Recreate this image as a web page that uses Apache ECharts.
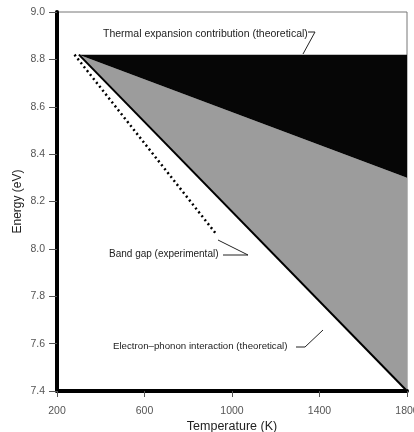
<!DOCTYPE html>
<html>
<head>
<meta charset="utf-8">
<script src="https://cdn.jsdelivr.net/npm/echarts@6/dist/echarts.min.js"></script>
<style>
  html, body { margin: 0; padding: 0; background: #fff; }
  #main { width: 414px; height: 432px; }
</style>
</head>
<body>
<div id="main"></div>
<script>
// axis ticks
const tempTicks = [200, 600, 1000, 1400, 1800]
const energyTicks = [7.4, 7.6, 7.8, 8.0, 8.2, 8.4, 8.6, 8.8, 9.0]

// thermal expansion contribution (black wedge)
const thermalT = [300, 1800, 1800]
const thermalE = [8.82, 8.82, 8.30]

// electron-phonon interaction (grey wedge)
const phononT = [300, 1800, 1800]
const phononE = [8.82, 8.30, 7.40]

// theoretical total (solid line)
const theoryT = [300, 1800]
const theoryE = [8.82, 7.40]

// band gap (experimental, dotted)
const bandT = [280, 930]
const bandE = [8.82, 8.06]

function pairs(xs, ys) {
  return xs.map((x, i) => [x, ys[i]])
}

function polygonSeries(xs, ys, color) {
  return {
    type: 'custom',
    silent: true,
    data: pairs(xs, ys),
    renderItem: function(params, api) {
      if (params.dataIndex !== 0) return
      let pts = xs.map((x, i) => api.coord([x, ys[i]]))
      return {
        type: 'polygon',
        shape: { points: pts },
        style: { fill: color }
      }
    }
  }
}

let myChart = echarts.init(document.getElementById('main'))
myChart.setOption({
  animation: false,
  textStyle: { fontFamily: 'Liberation Sans, Arial, sans-serif' },
  grid: {
    left: 57,
    right: 7,
    top: 12,
    bottom: 41,
    outerBoundsMode: 'none',
    containLabel: false,
    show: true,
    borderColor: '#777',
    borderWidth: 1
  },
  xAxis: {
    type: 'value',
    min: 200,
    max: 1800,
    interval: 400,
    name: 'Temperature (K)',
    nameLocation: 'middle',
    nameGap: 29,
    nameMoveOverlap: false,
    nameTextStyle: { fontSize: 12.5, color: '#222' },
    splitLine: { show: false },
    axisLine: { lineStyle: { color: '#000', width: 4 } },
    axisTick: { length: 6, lineStyle: { color: '#555' } },
    axisLabel: {
      margin: 15,
      fontSize: 10.5,
      color: '#555',
      formatter: function(v) { return tempTicks.indexOf(v) >= 0 ? String(v) : '' }
    }
  },
  yAxis: {
    type: 'value',
    min: 7.4,
    max: 9.0,
    interval: 0.2,
    name: 'Energy (eV)',
    nameLocation: 'middle',
    nameGap: 33,
    nameMoveOverlap: false,
    nameTextStyle: { fontSize: 12, color: '#222' },
    splitLine: { show: false },
    axisLine: { lineStyle: { color: '#000', width: 4 } },
    axisTick: { length: 8, lineStyle: { color: '#555' } },
    axisLabel: {
      margin: 12,
      fontSize: 10.5,
      color: '#555',
      formatter: function(v) { return v.toFixed(1) }
    }
  },
  series: [
    polygonSeries(phononT, phononE, '#9c9c9c'),
    polygonSeries(thermalT, thermalE, '#060606'),
    {
      type: 'line',
      silent: true,
      symbol: 'none',
      data: pairs(theoryT, theoryE),
      lineStyle: { color: '#000', width: 2 }
    },
    {
      type: 'line',
      silent: true,
      symbol: 'none',
      data: pairs(bandT, bandE),
      lineStyle: { color: '#000', width: 2.5, type: [2, 3] }
    }
  ],
  graphic: [
    {
      type: 'text', left: 103, top: 29,
      style: { text: 'Thermal expansion contribution (theoretical)', fill: '#222', font: '10.5px Liberation Sans, Arial, sans-serif' }
    },
    {
      type: 'polyline',
      shape: { points: [[308, 32], [315, 32], [303, 54]] },
      style: { stroke: '#222', lineWidth: 1, fill: null }
    },
    {
      type: 'text', left: 109, top: 249,
      style: { text: 'Band gap (experimental)', fill: '#222', font: '10px Liberation Sans, Arial, sans-serif' }
    },
    {
      type: 'polyline',
      shape: { points: [[223, 255], [248, 255], [218, 240]] },
      style: { stroke: '#222', lineWidth: 1, fill: null }
    },
    {
      type: 'text', left: 113, top: 341,
      style: { text: 'Electron\u2013phonon interaction (theoretical)', fill: '#222', font: '9.7px Liberation Sans, Arial, sans-serif' }
    },
    {
      type: 'polyline',
      shape: { points: [[296, 347], [305, 347], [323, 330]] },
      style: { stroke: '#222', lineWidth: 1, fill: null }
    }
  ]
})
</script>
</body>
</html>
